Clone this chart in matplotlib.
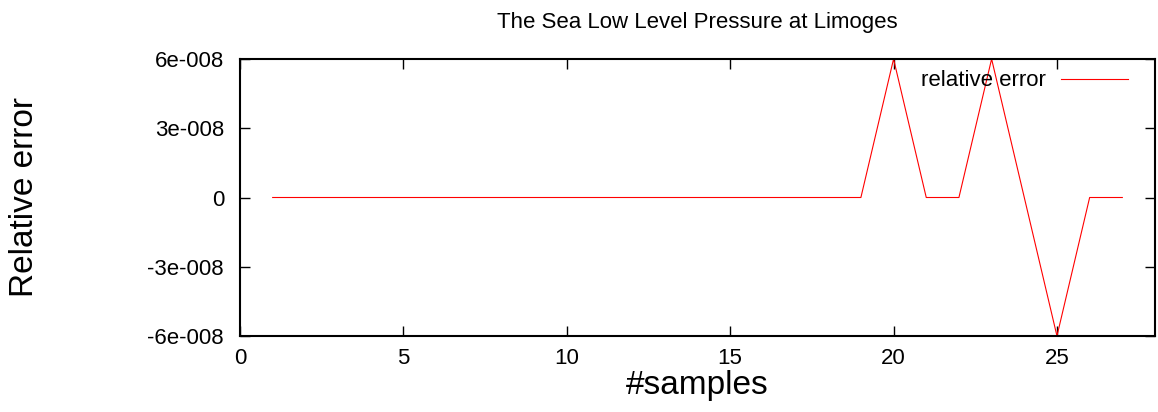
import matplotlib
matplotlib.use("Agg")
import matplotlib.pyplot as plt
from matplotlib.ticker import FuncFormatter

plt.rcParams['font.family'] = ['Liberation Sans', 'DejaVu Sans']

samples = list(range(1, 28))
rel_error = [0, 0, 0, 0, 0, 0, 0, 0, 0, 0, 0, 0, 0, 0, 0, 0, 0, 0, 0,
             6e-8, 0, 0, 6e-8, 0, -6e-8, 0, 0]
yticks = [-6e-8, -3e-8, 0, 3e-8, 6e-8]
xticks = [0, 5, 10, 15, 20, 25]

def fmt(v, pos):
    if abs(v) < 1e-20:
        return "0"
    m, e = f"{v:.0e}".split("e")
    sign = "-" if e.startswith("-") else "+"
    return f"{m}e{sign}{abs(int(e)):03d}"

W, H = 1158, 412
fig = plt.figure(figsize=(W/100, H/100), dpi=100)
ax = fig.add_axes([240/W, 1-336/H, (1155-240)/W, (336-59)/H])
ax.plot(samples, rel_error, color='red', lw=0.8, label='relative error')
ax.set_xlim(0, 28)
ax.set_ylim(-6e-8, 6e-8)
ax.set_xticks(xticks)
ax.set_yticks(yticks)
ax.yaxis.set_major_formatter(FuncFormatter(fmt))
ax.tick_params(direction='in', length=7, width=1, top=True, right=True,
               labelsize=16)
ax.tick_params(axis='x', pad=8.5)
ax.tick_params(axis='y', pad=11.5)
for s in ax.spines.values():
    s.set_linewidth(1.5)
ax.set_title('The Sea Low Level Pressure at Limoges', fontsize=16, pad=22)
ax.set_xlabel('#samples', fontsize=24, labelpad=1)
fig.text(25/W, 1-197/H, 'Relative error', fontsize=24, rotation=90,
         ha='center', va='center')
ax.legend(loc='center right', frameon=False, markerfirst=False, fontsize=16,
          handlelength=3.0, handletextpad=0.68, borderpad=0, borderaxespad=0,
          bbox_to_anchor=(1128/W, 1-81/H), bbox_transform=fig.transFigure)
fig.savefig('out.png', dpi=100)
